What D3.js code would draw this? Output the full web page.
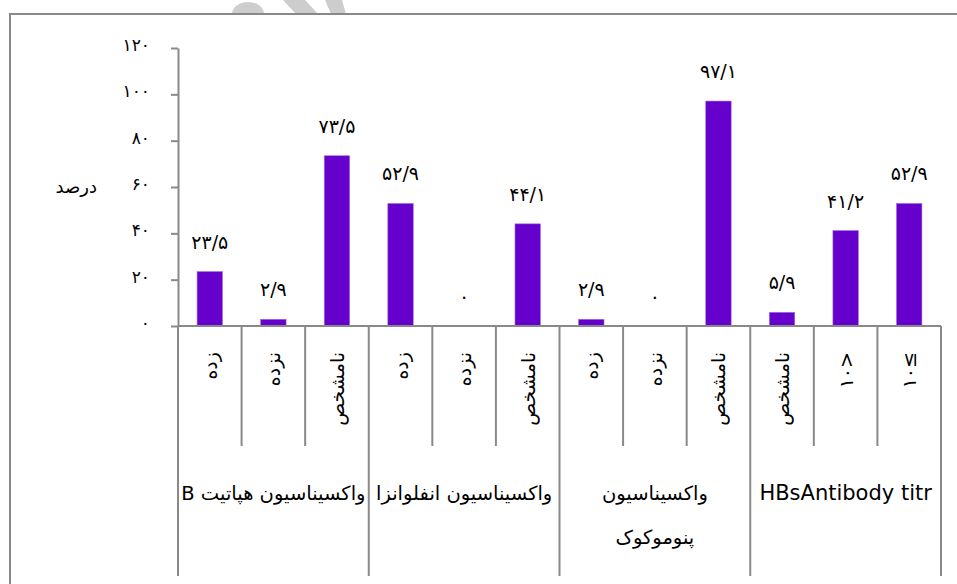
<!DOCTYPE html>
<html>
<head>
<meta charset="utf-8">
<script src="https://cdn.jsdelivr.net/npm/d3@7"></script>
<style>
  body { margin: 0; background: #fff; }
  text { font-family: "DejaVu Sans", sans-serif; fill: #000; }
</style>
</head>
<body>
<svg id="chart" width="957" height="584"></svg>
<script>
// data
var groupNames = ["واکسیناسیون هپاتیت B", "واکسیناسیون انفلوانزا", "واکسیناسیون|پنوموکوک", "HBsAntibody titr"];
var categories = ["زده", "نزده", "نامشخص", "زده", "نزده", "نامشخص", "زده", "نزده", "نامشخص", "نامشخص", "۱۰>", "۱۰≤"];
var values = [23.5, 2.9, 73.5, 52.9, 0, 44.1, 2.9, 0, 97.1, 5.9, 41.2, 52.9];
var yTicks = [0, 20, 40, 60, 80, 100, 120];
var yTitle = "درصد";

var fa = "۰۱۲۳۴۵۶۷۸۹";
function toFa(v) {
    return String(v).replace(/[0-9]/g, function (c) { return fa[+c]; }).replace(".", "/");
}

var svg = d3.select("#chart");
var left = 178, right = 941, plotTop = 48, plotBottom = 326;
var keys = categories.map(function (d, i) { return i; });

var x = d3.scaleBand().domain(keys).range([left, right]).paddingInner(0).paddingOuter(0);
var y = d3.scaleLinear().domain([0, 120]).range([plotBottom, plotTop]);
var grey = "#898989";

// watermark bits at the top
svg.append("g").attr("fill", "#cdcdcd")
    .selectAll("path")
    .data(["M232,14 A16,12 0 0 1 264,14 Z", "M283,0 L305,0 L318,14 L296,14 Z", "M325,0 L342,0 L346,14 L331,14 Z"])
    .enter().append("path")
    .attr("d", function (d) { return d; });

// outer frame
svg.append("rect")
    .attr("x", 10).attr("y", 14)
    .attr("width", 1000).attr("height", 700)
    .attr("fill", "none")
    .attr("stroke", grey)
    .attr("stroke-width", 2);

// bars
svg.append("g")
    .selectAll("rect")
    .data(values)
    .enter().append("rect")
    .attr("x", function (d, i) { return x(i) + x.bandwidth() * 0.3; })
    .attr("width", x.bandwidth() * 0.4)
    .attr("y", function (d) { return y(d); })
    .attr("height", function (d) { return plotBottom - y(d); })
    .attr("fill", "#6600cc")
    .attr("stroke", "#a070e0")
    .attr("stroke-width", 0.6);

// value labels
svg.append("g")
    .attr("text-anchor", "middle")
    .attr("font-size", 19)
    .selectAll("text")
    .data(values)
    .enter().append("text")
    .style("direction", "ltr")
    .style("unicode-bidi", "bidi-override")
    .attr("x", function (d, i) { return x(i) + x.bandwidth() / 2; })
    .attr("y", function (d) { return y(d) - 23; })
    .text(function (d) { return toFa(d); });

// y axis
var yAxis = svg.append("g")
    .attr("transform", "translate(" + left + ",0)")
    .call(d3.axisLeft(y).tickValues(yTicks).tickSize(7).tickSizeOuter(0).tickFormat(toFa).tickPadding(21));
yAxis.select(".domain").attr("stroke", grey).attr("stroke-width", 2);
yAxis.selectAll(".tick line").attr("stroke", grey).attr("stroke-width", 2);
yAxis.selectAll(".tick text")
    .attr("font-family", "DejaVu Sans")
    .attr("font-size", 17)
    .attr("dy", "0.15em");

svg.append("text")
    .attr("x", 97)
    .attr("y", 193)
    .attr("text-anchor", "end")
    .attr("font-size", 18)
    .text(yTitle);

// category axis
var cat = svg.append("g").attr("stroke", grey).attr("stroke-width", 2);
cat.append("line")
    .attr("x1", left).attr("x2", right)
    .attr("y1", plotBottom).attr("y2", plotBottom);

var edges = keys.concat([keys.length]);
cat.selectAll(".edge")
    .data(edges)
    .enter().append("line")
    .attr("class", "edge")
    .attr("x1", function (d) { return d < keys.length ? x(d) : right; })
    .attr("x2", function (d) { return d < keys.length ? x(d) : right; })
    .attr("y1", plotBottom)
    .attr("y2", function (d) { return d % 3 == 0 ? 576 : 446; });

// rotated category names
svg.append("g")
    .attr("font-size", 19)
    .selectAll("text")
    .data(categories)
    .enter().append("text")
    .attr("text-anchor", "end")
    .attr("dominant-baseline", "central")
    .each(function (d) {
        // digits + sign: keep the order as written
        if (/[۰-۹]/.test(d)) d3.select(this).style("direction", "ltr").style("unicode-bidi", "bidi-override");
    })
    .attr("transform", function (d, i) { return "translate(" + (x(i) + x.bandwidth() / 2) + ",352)rotate(-90)"; })
    .text(function (d) { return d; });

// group names
var gl = svg.append("g")
    .attr("text-anchor", "middle")
    .selectAll("text")
    .data(groupNames)
    .enter().append("text")
    .attr("x", function (d, i) { return x(i * 3) + x.bandwidth() * 1.5; })
    .attr("y", 500)
    .style("direction", function (d) { return d.indexOf("HBs") == 0 ? "ltr" : "rtl"; })
    .attr("font-family", function (d) { return d.indexOf("HBs") == 0 ? "Open Sans" : null; })
    .attr("font-size", function (d) { return d.indexOf("HBs") == 0 ? 21 : 19.5; });

gl.selectAll("tspan")
    .data(function (d) { return d.split("|"); })
    .enter().append("tspan")
    .attr("x", function () { return d3.select(this.parentNode).attr("x"); })
    .attr("dy", function (d, i) { return i == 0 ? 0 : 44; })
    .text(function (d) { return d; });
</script>
</body>
</html>
